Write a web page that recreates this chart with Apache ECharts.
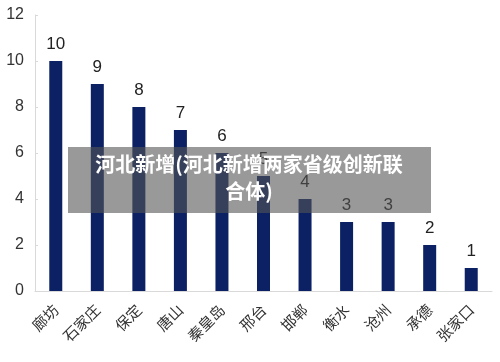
<!DOCTYPE html>
<html><head><meta charset="utf-8">
<script src="https://cdn.jsdelivr.net/npm/echarts@6/dist/echarts.min.js"></script>
<style>html,body{margin:0;padding:0;background:#fff}#c{width:500px;height:362px}</style>
</head><body><div id="c"></div>
<script>
var categories = ['廊坊','石家庄','保定','唐山','秦皇岛','邢台','邯郸','衡水','沧州','承德','张家口'];
var values = [10,9,8,7,6,5,4,3,3,2,1];
var yTicks = [0,2,4,6,8,10,12];
var overlayText = '河北新增(河北新增两家省级创新联合体)';

var chart = echarts.init(document.getElementById('c'));
chart.setOption({
  animation: false,
  grid: {left: 35, right: 8, top: 15, bottom: 71},
  xAxis: {
    type: 'category', data: categories,
    axisLine: {lineStyle: {color: '#d9d9d9'}},
    axisTick: {show: false},
    axisLabel: {rotate: 45, color: '#333', fontSize: 15, fontFamily: 'Noto Sans CJK SC', margin: 16, interval: 0}
  },
  yAxis: {
    type: 'value', min: yTicks[0], max: yTicks[yTicks.length-1], interval: 2,
    axisLine: {show: true, lineStyle: {color: '#d9d9d9'}},
    axisTick: {show: true, length: 3, inside: true, lineStyle: {color: '#d9d9d9'}},
    splitLine: {show: false},
    axisLabel: {color: '#333', fontSize: 16, fontFamily: 'Liberation Sans', margin: 11}
  },
  series: [{
    type: 'bar', data: values, barWidth: 13,
    itemStyle: {color: '#0b2163'},
    label: {show: true, position: 'top', distance: 8, color: '#222', fontSize: 17, fontFamily: 'Liberation Sans'}
  }],
  graphic: [
    {type: 'rect', left: 68, top: 147, z: 100, zlevel: 1, shape: {width: 363, height: 66}, style: {fill: 'rgba(85,85,85,0.6)'}},
    {type: 'text', x: 249, y: 151, z: 101, zlevel: 1, style: {
      text: overlayText, width: 318, overflow: 'break', align: 'center',
      fill: '#fff', fontSize: 20, fontWeight: 'bold', lineHeight: 27,
      fontFamily: 'Noto Sans CJK SC'
    }}
  ]
});
</script></body></html>
